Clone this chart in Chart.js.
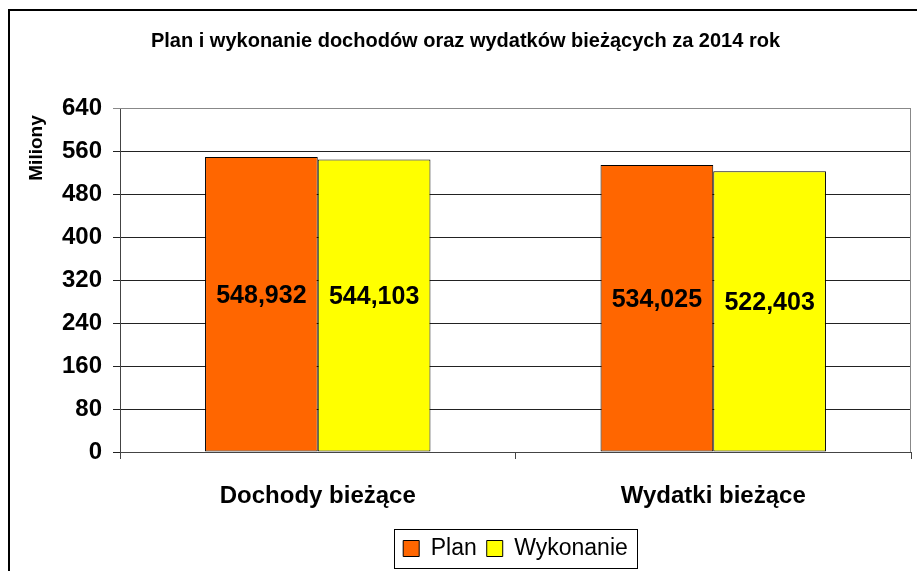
<!DOCTYPE html>
<html>
<head>
<meta charset="utf-8">
<script src="https://cdn.jsdelivr.net/npm/chart.js@4/dist/chart.umd.min.js"></script>
<style>
  body { margin: 0; background: #fff; }
  #wrap { width: 917px; height: 571px; }
</style>
</head>
<body>
<div id="wrap"><canvas id="barChart" width="917" height="571"></canvas></div>
<script>
var categories = ["Dochody bieżące", "Wydatki bieżące"];
var planValues = [548.932, 534.025];
var wykonanieValues = [544.103, 522.403];
var seriesNames = ["Plan", "Wykonanie"];
var yTicks = [0, 80, 160, 240, 320, 400, 480, 560, 640];

var FONT = "'Liberation Sans', Arial, sans-serif";

// centre title and legend on the plot area instead of the canvas
var shiftPlugin = {
  id: 'shift',
  afterLayout: function(chart) {
    var a = chart.chartArea;
    var mid = (a.left + a.right) / 2;
    [chart.legend, chart.titleBlock].forEach(function(box, k) {
      var d = mid - (box.left + box.right) / 2 + (k === 1 ? -50 : 0);
      box.left += d;
      box.right += d;
    });
  }
};

// outer frame, plot border, legend frame, y axis title
var framePlugin = {
  id: 'frame',
  afterDraw: function(chart) {
    var c = chart.ctx, a = chart.chartArea;
    c.save();
    c.strokeStyle = '#000';
    c.lineWidth = 2;
    c.strokeRect(9, 10, 930, 600);
    c.strokeStyle = '#888';
    c.lineWidth = 1;
    c.beginPath();
    c.moveTo(a.left, a.top + 0.5);
    c.lineTo(a.right - 0.5, a.top + 0.5);
    c.lineTo(a.right - 0.5, a.bottom);
    c.stroke();

    var boxes = chart.legend.legendHitBoxes;
    if (boxes && boxes.length) {
      var l = Infinity, r = -Infinity, t = Infinity, b = -Infinity;
      boxes.forEach(function(h) {
        l = Math.min(l, h.left); r = Math.max(r, h.left + h.width);
        t = Math.min(t, h.top); b = Math.max(b, h.top + h.height);
      });
      c.strokeStyle = '#000';
      c.strokeRect(Math.round(l - 9) + 0.5, Math.round(t - 8) + 0.5, Math.round(r - l + 18), Math.round(b - t + 16));
    }

    c.translate(37, 148);
    c.rotate(-Math.PI / 2);
    c.font = 'bold 19px ' + FONT;
    c.fillStyle = '#000';
    c.textAlign = 'center';
    c.textBaseline = 'middle';
    c.fillText('Miliony', 0, 0);
    c.restore();
  }
};

var labelPlugin = {
  id: 'barLabels',
  afterDatasetsDraw: function(chart) {
    var c = chart.ctx;
    c.save();
    c.font = 'bold 25px ' + FONT;
    c.fillStyle = '#000';
    c.textAlign = 'center';
    c.textBaseline = 'middle';
    chart.data.datasets.forEach(function(ds, di) {
      chart.getDatasetMeta(di).data.forEach(function(bar, i) {
        var y = (bar.y + bar.base) / 2 - 8;
        c.fillText(ds.data[i].toFixed(3).replace('.', ','), bar.x, y);
      });
    });
    c.restore();
  }
};

new Chart(document.getElementById('barChart').getContext('2d'), {
  type: 'bar',
  data: {
    labels: categories,
    datasets: [
      {
        label: seriesNames[0],
        data: planValues,
        backgroundColor: '#FF6600',
        borderColor: '#000',
        borderWidth: 1,
        borderSkipped: false
      },
      {
        label: seriesNames[1],
        data: wykonanieValues,
        backgroundColor: '#FFFF00',
        borderColor: '#000',
        borderWidth: 1,
        borderSkipped: false
      }
    ]
  },
  options: {
    responsive: false,
    animation: false,
    datasets: { bar: { categoryPercentage: 0.57, barPercentage: 1 } },
    layout: { padding: { left: 0, right: 6, top: 24, bottom: 1 } },
    plugins: {
      title: {
        display: true,
        text: 'Plan i wykonanie dochodów oraz wydatków bieżących za 2014 rok',
        color: '#000',
        font: { family: FONT, size: 20, weight: 'bold' },
        padding: { top: 5, bottom: 55 }
      },
      legend: {
        position: 'bottom',
        labels: {
          color: '#000',
          font: { family: FONT, size: 23 },
          boxWidth: 16,
          boxHeight: 16,
          padding: 10
        }
      },
      tooltip: { enabled: false }
    },
    scales: {
      x: {
        afterFit: function(axis) { axis.height = 75; },
        grid: {
          offset: true,
          drawOnChartArea: false,
          drawTicks: true,
          tickLength: 7,
          color: '#444'
        },
        border: { color: '#444' },
        ticks: {
          color: '#000',
          font: { family: FONT, size: 24, weight: 'bold' },
          padding: 23
        }
      },
      y: {
        min: 0,
        max: 640,
        afterFit: function(axis) { axis.width = 120; },
        afterBuildTicks: function(axis) {
          axis.ticks = yTicks.map(function(v) { return { value: v }; });
        },
        grid: {
          color: function(ctx) { return ctx.tick && ctx.tick.value === 640 ? '#888' : '#222'; },
          tickLength: 7
        },
        border: { color: '#444' },
        ticks: {
          color: '#000',
          font: { family: FONT, size: 24, weight: 'bold' },
          padding: 11
        }
      }
    }
  },
  plugins: [shiftPlugin, framePlugin, labelPlugin]
});
</script>
</body>
</html>
